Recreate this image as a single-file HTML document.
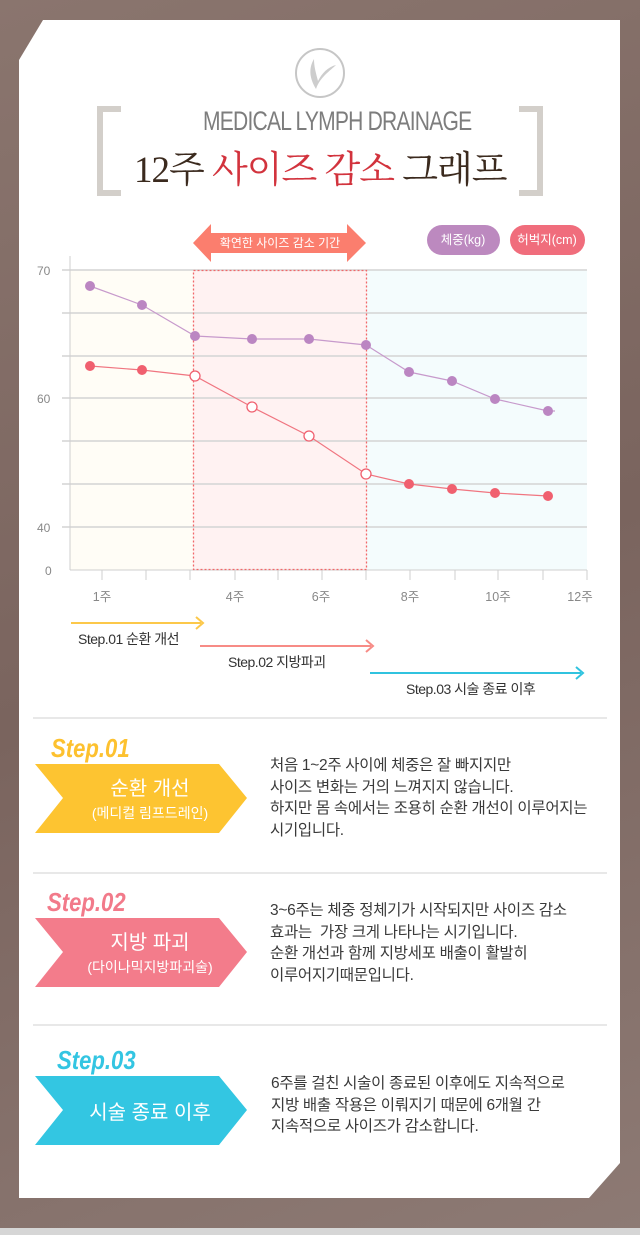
<!DOCTYPE html>
<html><head><meta charset="utf-8"><style>
*{margin:0;padding:0;box-sizing:border-box}
body{width:640px;height:1235px;overflow:hidden;background:#86706a;font-family:"Liberation Sans","Noto Sans CJK KR",sans-serif;position:relative}
.bg{position:absolute;inset:0;background:linear-gradient(160deg,#8a756e 0%,#7a645e 50%,#8d7a74 100%)}
.bot{position:absolute;left:0;top:1228px;width:640px;height:7px;background:#d6d6d6}
.card{position:absolute;left:19px;top:20px;width:601px;height:1178px;background:#fff;clip-path:polygon(24px 0,601px 0,601px 1143px,570px 1178px,0 1178px,0 40px);box-shadow:0 0 8px rgba(0,0,0,.3)}
.a{position:absolute;white-space:nowrap}
.txt{font-size:15.5px;color:#3a3a3a;line-height:21.5px;letter-spacing:-0.3px}
.chev{position:absolute;left:35px;width:212px;height:69px}
.chev .lbl{position:absolute;left:40px;width:150px;text-align:center;color:#fff}
.step{position:absolute;font-style:italic;font-weight:bold;font-size:26px;font-family:"Liberation Sans Narrow","Liberation Sans",sans-serif;transform:scaleX(.85);transform-origin:left}
.sep{position:absolute;left:33px;width:574px;height:2px;background:#e8e8e8}
</style></head><body>
<div class="bg"></div>
<div class="bot"></div>
<div class="card"></div>

<svg class="a" style="left:294px;top:47px" width="52" height="52" viewBox="0 0 52 52">
<ellipse cx="26" cy="26" rx="24" ry="24" fill="none" stroke="#c6c6c6" stroke-width="2"/>
<path d="M20 12 C14 22 16 32 22 42 C26 30 36 24 42 18 C34 20 28 26 24 34 C22 26 20 20 20 12Z" fill="#cdcdcd"/>
</svg>
<div class="a" style="left:97px;top:106px;width:24px;height:90px;border:6px solid #d3cfca;border-right:none"></div>
<div class="a" style="left:519px;top:106px;width:24px;height:90px;border:6px solid #d3cfca;border-left:none"></div>
<div class="a" style="left:203px;top:106px;font-size:27px;color:#7d7d7d;letter-spacing:-1px;transform:scaleX(.78);transform-origin:left;font-family:'Liberation Sans Narrow','Liberation Sans',sans-serif">MEDICAL LYMPH DRAINAGE</div>
<div class="a" style="left:134px;top:139px;font-size:37px;color:#3b2a1e;font-family:'Liberation Serif','Noto Serif CJK SC',serif;letter-spacing:-1px">12주 <span style="color:#d2333d">사이즈 감소</span> 그래프</div>

<svg class="a" style="left:0;top:220px" width="640" height="480" viewBox="0 220 640 480">
<rect x="70" y="270" width="123" height="300" fill="#fffdf6"/>
<rect x="193" y="270" width="174" height="300" fill="#fff2f2"/>
<rect x="367" y="270" width="220" height="300" fill="#f4fcfd"/>
<g stroke="#d4d4d4" stroke-width="1.5">
<line x1="62" y1="270" x2="587" y2="270"/><line x1="62" y1="313" x2="587" y2="313"/>
<line x1="62" y1="356" x2="587" y2="356"/><line x1="62" y1="398" x2="587" y2="398"/>
<line x1="62" y1="441" x2="587" y2="441"/><line x1="62" y1="484" x2="587" y2="484"/>
<line x1="62" y1="527" x2="587" y2="527"/>
</g>
<line x1="70" y1="256" x2="70" y2="570" stroke="#cfcfcf"/>
<line x1="70" y1="570" x2="587" y2="570" stroke="#cfcfcf"/>
<g stroke="#cfcfcf"><line x1="102" y1="570" x2="102" y2="580"/><line x1="146" y1="570" x2="146" y2="580"/><line x1="190" y1="570" x2="190" y2="580"/><line x1="235" y1="570" x2="235" y2="580"/><line x1="278" y1="570" x2="278" y2="580"/><line x1="322" y1="570" x2="322" y2="580"/><line x1="366" y1="570" x2="366" y2="580"/><line x1="410" y1="570" x2="410" y2="580"/><line x1="455" y1="570" x2="455" y2="580"/><line x1="498" y1="570" x2="498" y2="580"/><line x1="543" y1="570" x2="543" y2="580"/><line x1="587" y1="570" x2="587" y2="580"/></g>
<rect x="193.5" y="270.5" width="173" height="299" fill="none" stroke="#f0686a" stroke-width="1.3" stroke-dasharray="2,2"/>
<g font-size="12" fill="#888" font-family="Liberation Sans, sans-serif">
<text x="37" y="275">70</text><text x="37" y="403">60</text><text x="37" y="532">40</text><text x="45" y="575">0</text>
</g>
<g font-size="12.5" fill="#888" text-anchor="middle" font-family="Liberation Sans, Noto Sans CJK KR, sans-serif">
<text x="102" y="601">1주</text><text x="235" y="601">4주</text><text x="321" y="601">6주</text><text x="410" y="601">8주</text><text x="498" y="601">10주</text><text x="580" y="601">12주</text>
</g>
<polyline points="90,286 142,305 195,336 252,339 309,339 366,345 409,372 452,381 495,399 548,411 555,411" fill="none" stroke="#c79acc" stroke-width="1.2"/>
<g fill="#bb86c2"><circle cx="90" cy="286" r="5"/><circle cx="142" cy="305" r="5"/><circle cx="195" cy="336" r="5"/><circle cx="252" cy="339" r="5"/><circle cx="309" cy="339" r="5"/><circle cx="366" cy="345" r="5"/><circle cx="409" cy="372" r="5"/><circle cx="452" cy="381" r="5"/><circle cx="495" cy="399" r="5"/><circle cx="548" cy="411" r="5"/></g>
<polyline points="90,366 142,370 195,376 252,407 309,436 366,474 409,484 452,489 495,493 548,496" fill="none" stroke="#f07580" stroke-width="1.2"/>
<g fill="#f0606f"><circle cx="90" cy="366" r="5"/><circle cx="142" cy="370" r="5"/><circle cx="409" cy="484" r="5"/><circle cx="452" cy="489" r="5"/><circle cx="495" cy="493" r="5"/><circle cx="548" cy="496" r="5"/></g>
<g fill="#fff" stroke="#f0606f" stroke-width="1.3"><circle cx="195" cy="376" r="5"/><circle cx="252" cy="407" r="5"/><circle cx="309" cy="436" r="5"/><circle cx="366" cy="474" r="5"/></g>
<polygon points="193,243 211,224 211,233 347,233 347,224 366,243 347,262 347,253 211,253 211,262" fill="#fb7e6e"/>
<text x="280" y="247" font-size="12" fill="#fff" text-anchor="middle" font-family="Liberation Sans, Noto Sans CJK KR, sans-serif">확연한 사이즈 감소 기간</text>
<rect x="427" y="225" width="73" height="30" rx="15" fill="#bc89bf"/>
<text x="463" y="244" font-size="12.5" fill="#fff" text-anchor="middle" font-family="Liberation Sans, Noto Sans CJK KR, sans-serif">체중(kg)</text>
<rect x="510" y="225" width="75" height="30" rx="15" fill="#f06d7c"/>
<text x="547" y="244" font-size="12.5" fill="#fff" text-anchor="middle" font-family="Liberation Sans, Noto Sans CJK KR, sans-serif">허벅지(cm)</text>
<g fill="none" stroke-width="2">
<path d="M71 623 H201 M196 617 L203 623 L196 629" stroke="#fcc84a"/>
<path d="M200 646 H371 M366 640 L373 646 L366 652" stroke="#f78b86"/>
<path d="M370 673 H581 M576 667 L583 673 L576 679" stroke="#30c3df"/>
</g>
<g font-size="14" fill="#333" font-family="Liberation Sans, Noto Sans CJK KR, sans-serif" letter-spacing="-0.5">
<text x="78" y="644">Step.01 순환 개선</text><text x="228" y="667">Step.02 지방파괴</text><text x="406" y="694">Step.03 시술 종료 이후</text>
</g>
</svg>

<div class="sep" style="top:717px"></div>
<div class="sep" style="top:872px"></div>
<div class="sep" style="top:1024px"></div>

<div class="step" style="left:51px;top:733px;color:#fdc12f">Step.01</div>
<div class="chev" style="top:764px;background:#fdc431;clip-path:polygon(0 0,184px 0,212px 34px,184px 69px,0 69px,28px 34px)">
<div class="lbl" style="top:8px;font-size:20px">순환 개선</div>
<div class="lbl" style="top:39px;font-size:14px">(메디컬 림프드레인)</div></div>
<div class="a txt" style="left:270px;top:755px">처음 1~2주 사이에 체중은 잘 빠지지만<br>사이즈 변화는 거의 느껴지지 않습니다.<br>하지만 몸 속에서는 조용히 순환 개선이 이루어지는<br>시기입니다.</div>

<div class="step" style="left:47px;top:887px;color:#f27a8a">Step.02</div>
<div class="chev" style="top:918px;background:#f37c8b;clip-path:polygon(0 0,184px 0,212px 34px,184px 69px,0 69px,28px 34px)">
<div class="lbl" style="top:8px;font-size:20px">지방 파괴</div>
<div class="lbl" style="top:39px;font-size:14px">(다이나믹지방파괴술)</div></div>
<div class="a txt" style="left:270px;top:900px">3~6주는 체중 정체기가 시작되지만 사이즈 감소<br>효과는&nbsp; 가장 크게 나타나는 시기입니다.<br>순환 개선과 함께 지방세포 배출이 활발히<br>이루어지기때문입니다.</div>

<div class="step" style="left:57px;top:1045px;color:#33c5e2">Step.03</div>
<div class="chev" style="top:1076px;background:#33c6e2;clip-path:polygon(0 0,184px 0,212px 34px,184px 69px,0 69px,28px 34px)">
<div class="lbl" style="top:20px;font-size:20px">시술 종료 이후</div></div>
<div class="a txt" style="left:271px;top:1073px">6주를 걸친 시술이 종료된 이후에도 지속적으로<br>지방 배출 작용은 이뤄지기 때문에 6개월 간<br>지속적으로 사이즈가 감소합니다.</div>
</body></html>
